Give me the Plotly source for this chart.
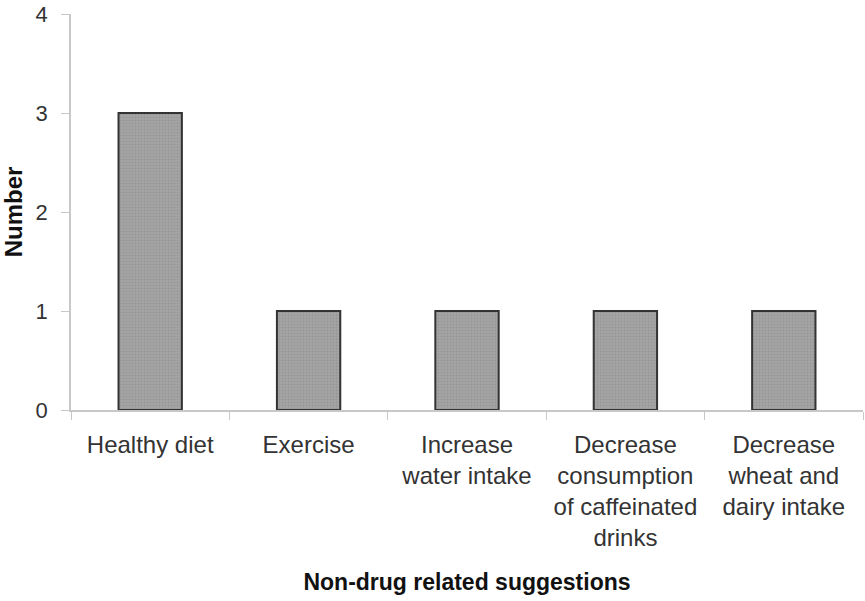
import plotly.graph_objects as go

categories = [
    "Healthy diet",
    "Exercise",
    "Increase<br>water intake",
    "Decrease<br>consumption<br>of caffeinated<br>drinks",
    "Decrease<br>wheat and<br>dairy intake",
]
values = [3, 1, 1, 1, 1]
y_ticks = [0, 1, 2, 3, 4]

fig = go.Figure(
    go.Bar(
        x=categories,
        y=values,
        marker=dict(
            color="#a0a0a0",
            line=dict(color="#333333", width=2),
            pattern=dict(shape=".", size=3, solidity=0.35,
                         fgcolor="#888888", bgcolor="#a4a4a4"),
        ),
    )
)

font_family = "Liberation Sans, Arial, sans-serif"
fig.update_layout(
    width=865,
    height=601,
    margin=dict(l=71, r=2, t=14, b=191, autoexpand=False),
    plot_bgcolor="white",
    paper_bgcolor="white",
    bargap=0.6,
    showlegend=False,
    font=dict(family=font_family, color="#333333"),
)
fig.update_xaxes(
    showline=True, linecolor="#c8c8c8", linewidth=1.5,
    ticks="outside", tickson="boundaries", ticklen=8, tickcolor="#c8c8c8",
    tickfont=dict(size=24, color="#333333"), ticklabelstandoff=12,
    title=dict(text="<b>Non-drug related suggestions</b>", font=dict(size=23, color="#111111"), standoff=24),
    showgrid=False, tickangle=0, automargin=False,
)
fig.update_yaxes(
    range=[0, 4], tickvals=y_ticks,
    showline=True, linecolor="#c8c8c8", linewidth=1.5,
    ticks="outside", ticklen=8, tickcolor="#c8c8c8",
    tickfont=dict(size=22, color="#333333"), ticklabelstandoff=9,
    ticklabeloverflow="allow",
    title=dict(text="<b>Number</b>", font=dict(size=24, color="#111111"), standoff=24),
    showgrid=False, zeroline=False, automargin=False,
)

fig.write_html(
    "out.html",
    config={"displayModeBar": False},
    post_script="document.body.style.margin='0';",
)
